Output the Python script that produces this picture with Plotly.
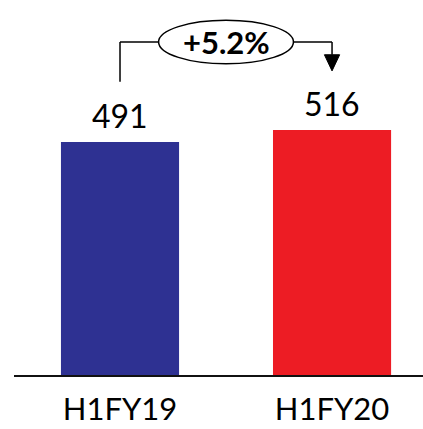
import plotly.graph_objects as go

categories = ["H1FY19", "H1FY20"]
values = [491, 516]
bar_colors = ["#2E3192", "#ED1C24"]
growth_label = "+5.2%"

FONT = "Lato, 'Open Sans', Arial, sans-serif"
ymax = 790

fig = go.Figure()
fig.add_trace(go.Bar(
    x=categories, y=values,
    marker=dict(color=bar_colors, line=dict(width=0)),
    width=0.557,
    hoverinfo="skip",
))

# value labels
for i, v in enumerate(values):
    fig.add_annotation(x=i, y=v, text=str(v), showarrow=False,
                       yanchor="bottom", yshift=5,
                       font=dict(family=FONT, size=32, color="#000"))

# growth bracket
bracket_y = ymax * 0.888
left_bottom = ymax * 0.782
tip_y = ymax * 0.811
head_base = ymax * 0.854
ell_half_w = 0.318
ell_half_h = ymax * 0.058
mid = 0.5
line_style = dict(color="#000", width=1.5)

fig.add_shape(type="line", xref="x", yref="y", x0=0, x1=0, y0=left_bottom, y1=bracket_y, line=line_style)
fig.add_shape(type="line", xref="x", yref="y", x0=0, x1=mid - ell_half_w, y0=bracket_y, y1=bracket_y, line=line_style)
fig.add_shape(type="line", xref="x", yref="y", x0=mid + ell_half_w, x1=1, y0=bracket_y, y1=bracket_y, line=line_style)
fig.add_shape(type="line", xref="x", yref="y", x0=1, x1=1, y0=bracket_y, y1=head_base, line=line_style)
hw = 0.036
fig.add_shape(type="path", xref="x", yref="y",
              path=f"M {1-hw},{head_base} L {1+hw},{head_base} L 1,{tip_y} Z",
              fillcolor="#000", line=dict(color="#000", width=1))
fig.add_shape(type="circle", xref="x", yref="y",
              x0=mid - ell_half_w, x1=mid + ell_half_w,
              y0=bracket_y - ell_half_h, y1=bracket_y + ell_half_h,
              fillcolor="#fff", line=line_style)
fig.add_annotation(x=mid, y=bracket_y, text=f"<b>{growth_label}</b>", showarrow=False,
                   font=dict(family=FONT, size=31, color="#000"))

fig.update_layout(
    width=423, height=429,
    margin=dict(l=14, r=0, t=0, b=54),
    paper_bgcolor="#fff", plot_bgcolor="#fff",
    showlegend=False,
    xaxis=dict(range=[-0.5, 1.429], showline=True, linecolor="#111", linewidth=1.5,
               showgrid=False, zeroline=False, ticks="", ticklabelstandoff=6,
               tickfont=dict(family=FONT, size=31, color="#000")),
    yaxis=dict(range=[0, ymax], visible=False, showgrid=False, zeroline=False),
)

fig.write_html("out.html", config={"displayModeBar": False},
               post_script="document.body.style.margin='0';document.body.style.overflow='hidden';")
